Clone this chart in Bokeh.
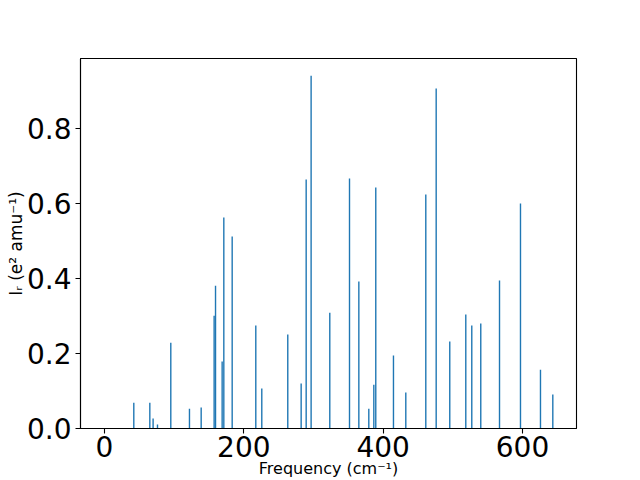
from bokeh.plotting import figure
from bokeh.models import Range1d, FixedTicker, PrintfTickFormatter
from bokeh.embed import file_html
from bokeh.resources import INLINE

# Vibrational frequencies (cm^-1) and IR intensities
frequencies = [42.1, 65.1, 69.8, 76.1, 95.2, 122.0, 138.8, 157.4, 159.4, 168.9,
               171.3, 183.3, 217.2, 225.8, 263.1, 282.3, 289.5, 296.6, 323.4,
               351.7, 365.1, 379.4, 386.6, 389.4, 414.8, 432.5, 461.2, 476.1,
               495.6, 518.6, 527.2, 540.1, 567.0, 597.1, 625.8, 643.5]
intensities = [0.069, 0.069, 0.027, 0.011, 0.229, 0.053, 0.056, 0.301, 0.381,
               0.179, 0.563, 0.512, 0.275, 0.107, 0.251, 0.120, 0.664, 0.941,
               0.309, 0.667, 0.392, 0.053, 0.117, 0.643, 0.195, 0.096, 0.624,
               0.907, 0.232, 0.304, 0.275, 0.280, 0.395, 0.600, 0.157, 0.091]
x_ticks = [0, 200, 400, 600]
y_ticks = [0.0, 0.2, 0.4, 0.6, 0.8]
x_label = "Frequency (cm⁻¹)"
y_label = "Iᵣ (e² amu⁻¹)"

X0, X1 = -34.4, 677.5
Y0, Y1 = 0.0, 0.9867

p = figure(width=640, height=480, output_backend="svg", toolbar_location=None,
           x_range=Range1d(X0, X1), y_range=Range1d(Y0, Y1))
p.min_border_left = 80
p.min_border_right = 64
p.min_border_top = 58
p.min_border_bottom = 52

p.vbar(x=frequencies, top=intensities, width=2.0, bottom=0,
       fill_color="#1f77b4", line_color=None)

p.xgrid.visible = False
p.ygrid.visible = False
p.outline_line_color = "black"
p.outline_line_width = 1.1

FONT = "DejaVu Sans"
for ax in (p.xaxis[0], p.yaxis[0]):
    ax.axis_line_color = "black"
    ax.axis_line_width = 1.1
    ax.major_tick_line_color = "black"
    ax.major_tick_line_width = 1.1
    ax.major_tick_out = 5
    ax.major_tick_in = 0
    ax.minor_tick_line_color = None
    ax.major_label_text_font = FONT
    ax.major_label_text_font_size = "28px"
    ax.major_label_text_color = "black"
    ax.axis_label_text_font = FONT
    ax.axis_label_text_font_style = "normal"
    ax.axis_label_text_color = "black"

p.xaxis[0].ticker = FixedTicker(ticks=x_ticks)
p.yaxis[0].ticker = FixedTicker(ticks=y_ticks)
p.yaxis[0].formatter = PrintfTickFormatter(format="%.1f")
p.xaxis[0].major_label_standoff = 2
p.yaxis[0].major_label_standoff = 4

p.xaxis[0].axis_label = x_label
p.xaxis[0].axis_label_text_font_size = "16px"
p.xaxis[0].axis_label_standoff = -1

p.yaxis[0].axis_label = y_label
p.yaxis[0].axis_label_text_font_size = "17px"
p.yaxis[0].axis_label_standoff = -2

open("out.html", "w").write(file_html(p, INLINE))
